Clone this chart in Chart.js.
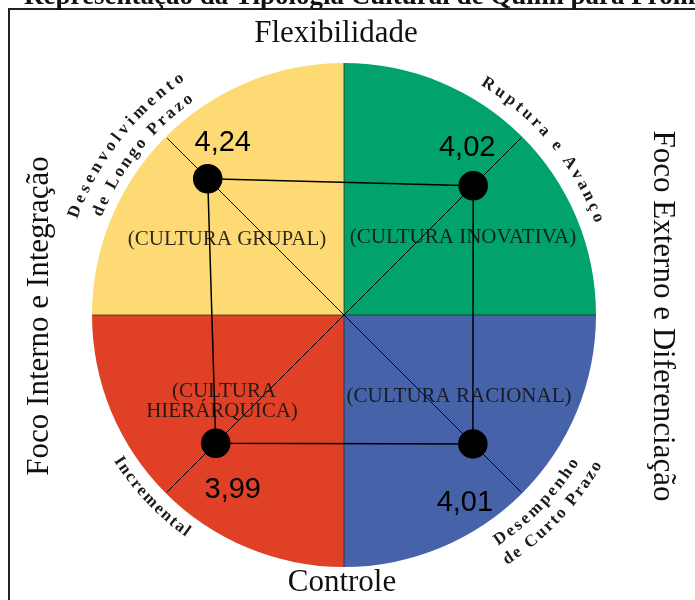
<!DOCTYPE html>
<html lang="pt">
<head>
<meta charset="utf-8">
<title>Tipologia Cultural de Quinn</title>
<script src="https://cdn.jsdelivr.net/npm/chart.js@4.4.1/dist/chart.umd.min.js"></script>
<style>
  html, body { margin: 0; padding: 0; background: #fff; }
  #wrap { position: relative; width: 695px; height: 600px; overflow: hidden; }
  canvas { display: block; }
</style>
</head>
<body>
<div id="wrap"><canvas id="quinnChart" width="695" height="600"></canvas></div>
<script>
// Data (clockwise from top-left)
const dimensions = ["Desenvolvimento de Longo Prazo", "Ruptura e Avanço", "Desempenho de Curto Prazo", "Incremental"];
const dimensionLines = [["Desenvolvimento", "de Longo Prazo"], ["Ruptura e Avanço"], ["Desempenho", "de Curto Prazo"], ["Incremental"]];
const scores = [4.24, 4.02, 4.01, 3.99];
const cultures = [["(CULTURA GRUPAL)"], ["(CULTURA INOVATIVA)"], ["(CULTURA RACIONAL)"], ["(CULTURA", "HIERÁRQUICA)"]];
const axisTitles = ["Flexibilidade", "Controle", "Foco Interno e Integração", "Foco Externo e Diferenciação"];
const chartTitle = "Representação da Tipologia Cultural de Quinn para Promi";

// Styles
const quadrantColors = ["#fdda74", "#02a26b", "#4662a9", "#e04126"]; // from 180deg clockwise
const serif = "'Liberation Serif', 'Times New Roman', serif";
const sans = "'Liberation Sans', Arial, sans-serif";
// curved labels: radius, start/end angle in degrees (canvas angles)
const arcStyle = [
  [{ r: 288, a0: -159, a1: -125 }, { r: 266, a0: -157, a1: -126 }],
  [{ r: 272, a0: -58, a1: -21 }],
  [{ r: 273, a0: 55, a1: 33 }, { r: 294, a0: 56, a1: 31 }],
  [{ r: 268, a0: 147, a1: 126 }]
];
const valueOffsets = [[15, -36], [-6, -38], [-8, 59], [17, 47]];
const cultureOffsets = [[[-117, -76]], [[119, -78]], [[115, 81]], [[-120, 76], [-122, 96]]];

function arcText(ctx, cx, cy, text, radius, a0, a1) {
  const chars = [...text];
  const w = chars.map(ch => ctx.measureText(ch).width);
  let natural = 0;
  for (let i = 0; i < chars.length - 1; i++) natural += (w[i] + w[i + 1]) / 2;
  const arcLen = Math.abs(a1 - a0) * Math.PI / 180 * radius;
  const gap = (arcLen - natural) / (chars.length - 1);
  const dir = a1 > a0 ? 1 : -1;
  let s = 0;
  chars.forEach((ch, i) => {
    if (i > 0) s += (w[i - 1] + w[i]) / 2 + gap;
    const ang = a0 * Math.PI / 180 + dir * s / radius;
    ctx.save();
    ctx.translate(cx + radius * Math.cos(ang), cy + radius * Math.sin(ang));
    ctx.rotate(ang + dir * Math.PI / 2);
    ctx.fillText(ch, 0, 0);
    ctx.restore();
  });
}

const quinnDecor = {
  id: "quinnDecor",
  beforeDraw(chart) {
    const sc = chart.scales.r, ctx = chart.ctx;
    const cx = sc.xCenter, cy = sc.yCenter, rad = sc.drawingArea;
    ctx.save();
    ctx.fillStyle = "#fff";
    ctx.fillRect(0, 0, chart.width, chart.height);
    quadrantColors.forEach((c, i) => {
      ctx.beginPath();
      ctx.moveTo(cx, cy);
      ctx.arc(cx, cy, rad + 2, Math.PI + i * Math.PI / 2, Math.PI + (i + 1) * Math.PI / 2);
      ctx.closePath();
      ctx.fillStyle = c;
      ctx.fill();
    });
    ctx.strokeStyle = "rgba(40,30,20,0.7)";
    ctx.lineWidth = 1;
    ctx.beginPath();
    ctx.moveTo(cx - rad - 2, cy); ctx.lineTo(cx + rad + 2, cy);
    ctx.moveTo(cx, cy - rad - 2); ctx.lineTo(cx, cy + rad + 2);
    ctx.stroke();
    ctx.restore();
  },
  beforeDatasetsDraw(chart) {
    const sc = chart.scales.r, ctx = chart.ctx;
    ctx.save();
    ctx.font = "21px " + serif;
    ctx.fillStyle = "rgba(20,20,20,0.9)";
    ctx.textAlign = "center";
    ctx.textBaseline = "middle";
    cultures.forEach((lines, i) => {
      lines.forEach((t, j) => {
        const o = cultureOffsets[i][j];
        ctx.fillText(t, sc.xCenter + o[0], sc.yCenter + o[1]);
      });
    });
    ctx.restore();
  },
  afterDatasetsDraw(chart) {
    const sc = chart.scales.r, ctx = chart.ctx;
    const cx = sc.xCenter, cy = sc.yCenter;
    ctx.save();
    ctx.fillStyle = "#000";
    ctx.textAlign = "center";
    ctx.textBaseline = "middle";

    // value labels
    ctx.font = "29px " + sans;
    chart.getDatasetMeta(0).data.forEach((pt, i) => {
      const txt = scores[i].toFixed(2).replace(".", ",");
      ctx.fillText(txt, pt.x + valueOffsets[i][0], pt.y + valueOffsets[i][1]);
    });

    // curved dimension labels
    ctx.font = "bold 17px " + serif;
    ctx.fillStyle = "#1a1a1a";
    dimensionLines.forEach((lines, i) => {
      lines.forEach((t, j) => {
        const a = arcStyle[i][j];
        arcText(ctx, cx, cy, t, a.r, a.a0, a.a1);
      });
    });

    // axis titles
    ctx.fillStyle = "#111";
    ctx.font = "31px " + serif;
    ctx.fillText(axisTitles[0], cx - 8, 34);
    ctx.fillText(axisTitles[1], cx - 2, 583);
    ctx.save();
    ctx.translate(40, cy + 1);
    ctx.rotate(-Math.PI / 2);
    ctx.fillText(axisTitles[2], 0, 0);
    ctx.restore();
    ctx.save();
    ctx.translate(662, cy + 1);
    ctx.rotate(Math.PI / 2);
    ctx.fillText(axisTitles[3], 0, 0);
    ctx.restore();

    // frame and clipped title
    ctx.strokeStyle = "#222";
    ctx.lineWidth = 2;
    ctx.beginPath();
    ctx.moveTo(9, 600); ctx.lineTo(9, 9); ctx.lineTo(700, 9);
    ctx.stroke();
    ctx.font = "bold 27px " + serif;
    ctx.textAlign = "left";
    ctx.textBaseline = "alphabetic";
    ctx.fillText(chartTitle, 24, 4);
    ctx.restore();
  }
};

new Chart(document.getElementById("quinnChart"), {
  type: "radar",
  data: {
    labels: dimensions,
    datasets: [{
      data: scores,
      borderColor: "#000",
      borderWidth: 1.5,
      backgroundColor: "transparent",
      fill: false,
      pointRadius: 14,
      pointHoverRadius: 14,
      pointBackgroundColor: "#000",
      pointBorderColor: "#000"
    }]
  },
  options: {
    responsive: false,
    animation: false,
    layout: { padding: { left: 94, right: 101, top: 65, bottom: 35 } },
    plugins: { legend: { display: false }, tooltip: { enabled: false } },
    scales: {
      r: {
        min: 0,
        max: 5.5,
        startAngle: -45,
        grid: { display: false },
        angleLines: { display: true, color: "#000", lineWidth: 1 },
        ticks: { display: false },
        pointLabels: { display: false }
      }
    }
  },
  plugins: [quinnDecor]
});
</script>
</body>
</html>
